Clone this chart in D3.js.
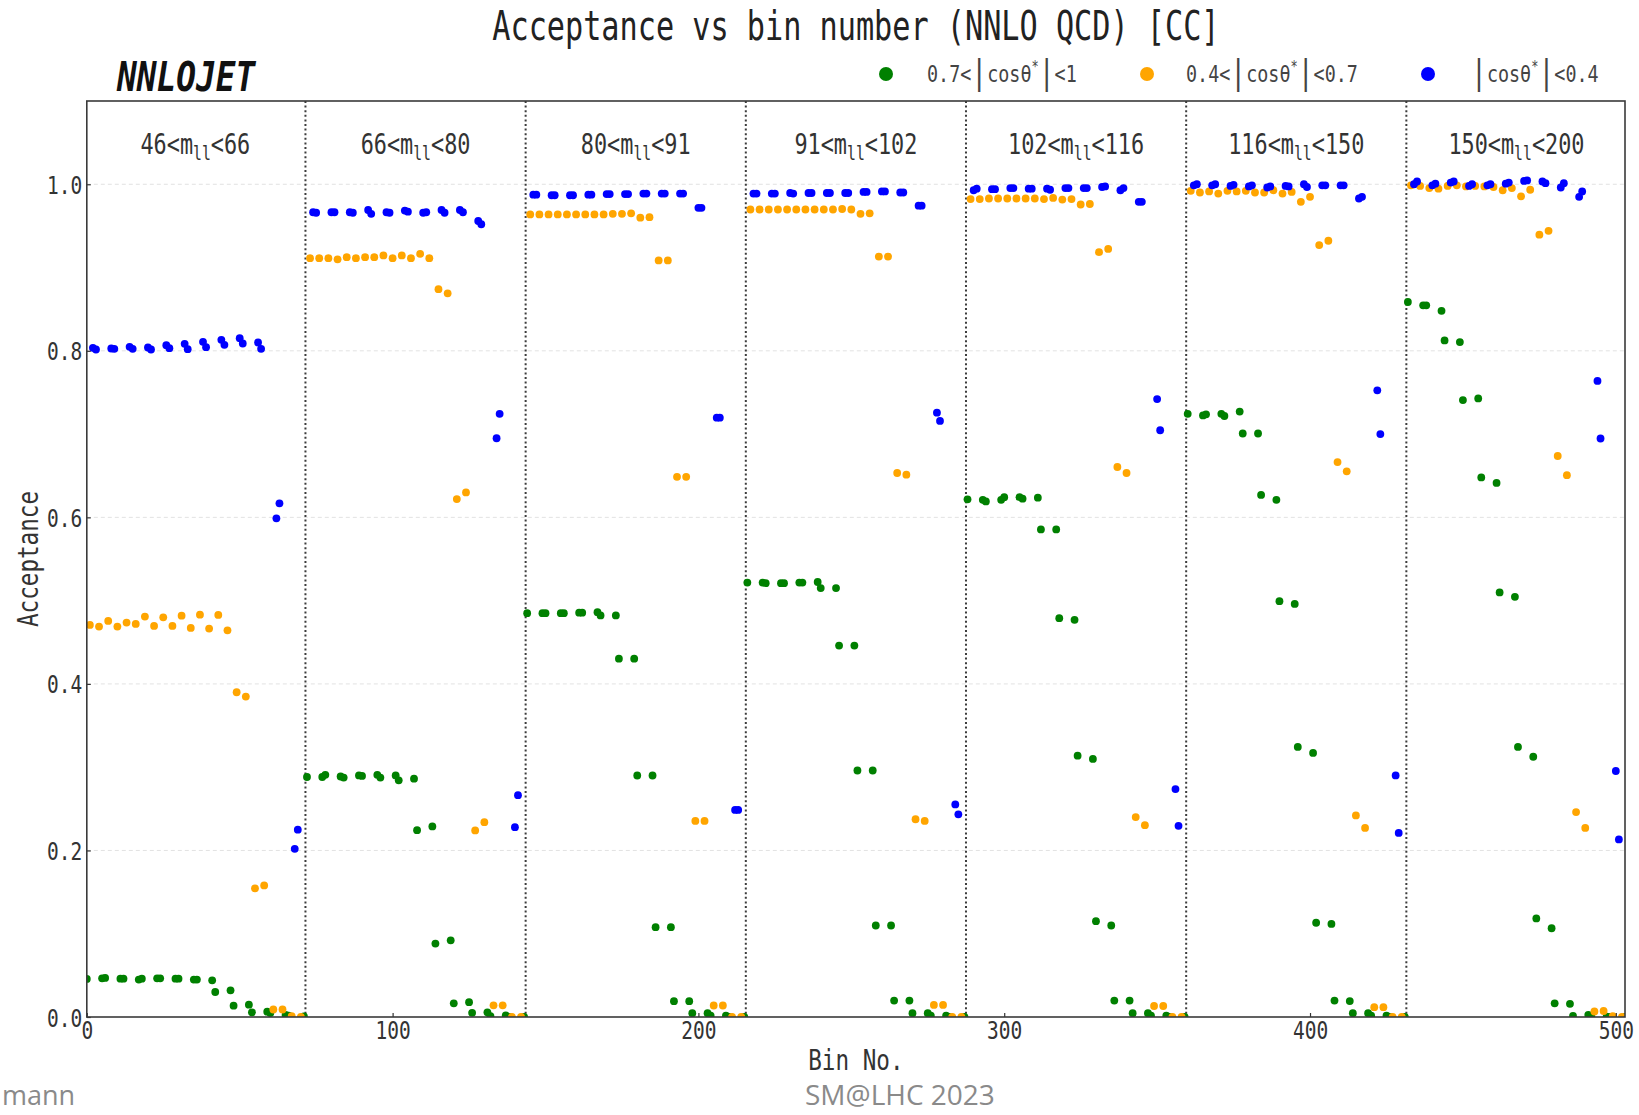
<!DOCTYPE html>
<html>
<head>
<meta charset="utf-8">
<script src="https://cdn.jsdelivr.net/npm/d3@7"></script>
<style>
  body { margin: 0; background: #fff; }
  svg { display: block; }
</style>
</head>
<body>
<svg id="chart" width="1639" height="1115"></svg>
<script>
// Dilepton mass windows (edges in GeV); 72 bins per window = 12 rapidity slices x 6 cos(theta*) slices
const massEdges = [46, 66, 80, 91, 102, 116, 150, 200];
const rapidityBinsPerMass = 12;
const cosBinsPerRapidity = 6;

// Acceptance per cos(theta*) slice, one row of 12 rapidity slices per mass window
// cos(theta*) in [-1, -0.7]
const accCosNeg10to07 = [
  [0.0457, 0.0469, 0.046, 0.046, 0.0465, 0.046, 0.0449, 0.030, 0.0136, 0.0056, 0.0048, 0.0016],
  [0.2882, 0.2908, 0.2875, 0.2895, 0.2875, 0.2842, 0.2243, 0.0882, 0.0164, 0.005, 0.001, 0.0],
  [0.4849, 0.4849, 0.4849, 0.4855, 0.4822, 0.4303, 0.290, 0.1079, 0.019, 0.0046, 0.0015, 0.0],
  [0.5217, 0.521, 0.521, 0.5217, 0.5151, 0.446, 0.296, 0.1099, 0.0197, 0.0046, 0.0015, 0.0],
  [0.6217, 0.6191, 0.6243, 0.6224, 0.5855, 0.4789, 0.3138, 0.1151, 0.0197, 0.0046, 0.0015, 0.0],
  [0.7243, 0.7237, 0.7217, 0.7007, 0.627, 0.4993, 0.3243, 0.1132, 0.0197, 0.0046, 0.0015, 0.0],
  [0.8586, 0.8546, 0.8125, 0.7408, 0.648, 0.5099, 0.3243, 0.1184, 0.0164, 0.0013, 0.0005, 0.0]
];
// cos(theta*) in [-0.7, -0.4]
const accCosNeg07to04 = [
  [0.4708, 0.4756, 0.4736, 0.4808, 0.480, 0.482, 0.4832, 0.4828, 0.390, 0.1545, 0.009, 0.001],
  [0.9112, 0.9112, 0.9125, 0.9125, 0.9145, 0.9145, 0.9164, 0.874, 0.622, 0.224, 0.014, 0.0],
  [0.9638, 0.9638, 0.9638, 0.9638, 0.9638, 0.9645, 0.9599, 0.9086, 0.6487, 0.2355, 0.0138, 0.0],
  [0.9697, 0.9697, 0.9697, 0.9697, 0.9697, 0.9703, 0.9645, 0.9132, 0.6533, 0.2375, 0.0145, 0.0],
  [0.9822, 0.9829, 0.9829, 0.9829, 0.9822, 0.9816, 0.9757, 0.9184, 0.6605, 0.2401, 0.0132, 0.0],
  [0.9921, 0.9914, 0.9921, 0.9921, 0.9901, 0.9888, 0.9789, 0.927, 0.6664, 0.2421, 0.0118, 0.0],
  [0.9987, 0.9954, 0.998, 0.9974, 0.9974, 0.9928, 0.9855, 0.9395, 0.6737, 0.2461, 0.0066, 0.001]
];
// cos(theta*) in [-0.4, 0]
const accCosNeg04to00 = [
  [0.8036, 0.8028, 0.8048, 0.804, 0.8068, 0.8084, 0.8108, 0.8132, 0.8152, 0.810, 0.5988, 0.202],
  [0.9664, 0.9664, 0.9664, 0.9691, 0.9664, 0.9684, 0.9658, 0.9691, 0.9691, 0.9559, 0.695, 0.228],
  [0.9875, 0.9868, 0.9868, 0.9875, 0.9882, 0.9882, 0.9888, 0.9888, 0.9888, 0.9717, 0.7197, 0.2487],
  [0.9888, 0.9888, 0.9895, 0.9895, 0.9895, 0.9895, 0.9908, 0.9914, 0.9901, 0.9743, 0.7257, 0.2553],
  [0.9928, 0.9941, 0.9954, 0.9947, 0.9947, 0.9954, 0.9954, 0.9967, 0.9928, 0.9789, 0.7421, 0.2737],
  [0.9987, 0.9987, 0.998, 0.9974, 0.9961, 0.998, 1.0, 0.9987, 0.9987, 0.9829, 0.7526, 0.2901],
  [1.0, 0.9987, 1.002, 0.998, 0.9987, 1.0007, 1.004, 1.0033, 0.9961, 0.9849, 0.7638, 0.2954]
];
// cos(theta*) in [0, 0.4]
const accCos00to04 = [
  [0.8016, 0.8024, 0.8024, 0.8016, 0.8032, 0.802, 0.8044, 0.8072, 0.8088, 0.8024, 0.6168, 0.225],
  [0.9658, 0.9664, 0.9658, 0.9645, 0.9658, 0.9671, 0.9664, 0.9658, 0.9664, 0.952, 0.7243, 0.2664],
  [0.9875, 0.9868, 0.9868, 0.9875, 0.9882, 0.9882, 0.9888, 0.9888, 0.9888, 0.9717, 0.7197, 0.2487],
  [0.9888, 0.9888, 0.9888, 0.9895, 0.9895, 0.9895, 0.9908, 0.9914, 0.9901, 0.9743, 0.7158, 0.2434],
  [0.9947, 0.9941, 0.9954, 0.9947, 0.9934, 0.9954, 0.9954, 0.9974, 0.9954, 0.9789, 0.7046, 0.2296],
  [1.0, 1.0, 0.9993, 0.9987, 0.9974, 0.9974, 0.9967, 0.9987, 0.9987, 0.9849, 0.700, 0.2211],
  [1.0033, 1.0007, 1.0033, 1.0, 1.0, 1.002, 1.0046, 1.0013, 1.0013, 0.9914, 0.6947, 0.2132]
];
// cos(theta*) in [0.4, 0.7]
const accCos04to07 = [
  [0.4688, 0.4688, 0.472, 0.4696, 0.4696, 0.4672, 0.4664, 0.4644, 0.3848, 0.158, 0.009, 0.0],
  [0.9112, 0.9099, 0.9112, 0.9125, 0.9112, 0.9112, 0.9112, 0.869, 0.630, 0.234, 0.014, 0.0],
  [0.9638, 0.9638, 0.9638, 0.9638, 0.9645, 0.9651, 0.9605, 0.9086, 0.6487, 0.2355, 0.0138, 0.0],
  [0.9697, 0.9697, 0.9697, 0.9697, 0.9697, 0.9697, 0.9651, 0.9132, 0.6513, 0.2355, 0.0145, 0.0],
  [0.9822, 0.9829, 0.9829, 0.9829, 0.9836, 0.9822, 0.9763, 0.9224, 0.6533, 0.2303, 0.0132, 0.0],
  [0.9901, 0.9888, 0.9914, 0.9901, 0.9928, 0.9908, 0.9849, 0.9322, 0.6553, 0.227, 0.0118, 0.0],
  [0.998, 0.9947, 0.9987, 0.998, 0.9967, 0.9954, 0.9934, 0.9441, 0.6507, 0.227, 0.0072, 0.0]
];
// cos(theta*) in [0.7, 1]
const accCos07to10 = [
  [0.0465, 0.046, 0.045, 0.0465, 0.046, 0.045, 0.044, 0.032, 0.0148, 0.0064, 0.0024, 0.0008],
  [0.2882, 0.2888, 0.2901, 0.2908, 0.2901, 0.2862, 0.2289, 0.0921, 0.0178, 0.0056, 0.002, 0.0],
  [0.4849, 0.4849, 0.4855, 0.4862, 0.4822, 0.4303, 0.290, 0.1079, 0.019, 0.0046, 0.0015, 0.0],
  [0.5217, 0.521, 0.5217, 0.5224, 0.5151, 0.446, 0.296, 0.1099, 0.0197, 0.0046, 0.0015, 0.0],
  [0.6211, 0.6211, 0.6243, 0.6237, 0.5855, 0.477, 0.3099, 0.1099, 0.0197, 0.0046, 0.0015, 0.0],
  [0.7224, 0.7243, 0.727, 0.7007, 0.6211, 0.4961, 0.3171, 0.1118, 0.0191, 0.0046, 0.0015, 0.0],
  [0.8546, 0.848, 0.8105, 0.7428, 0.6414, 0.5046, 0.3125, 0.1066, 0.0158, 0.0026, 0.0005, 0.0]
];

// Order of the cos(theta*) slices inside one rapidity slice, and the |cos(theta*)| group each belongs to
const cosSliceData = [accCosNeg10to07, accCosNeg07to04, accCosNeg04to00, accCos00to04, accCos04to07, accCos07to10];
const cosSliceGroup = [0, 1, 2, 2, 1, 0];

// |cos(theta*)| groups: legend text and marker colour
const groupColors = ["green", "orange", "blue"];
const groupLegend = [
  { pre: "0.7<", post: "<1" },
  { pre: "0.4<", post: "<0.7" },
  { pre: "", post: "<0.4" }
];

const xTicks = [0, 100, 200, 300, 400, 500];
const yTicks = [0.0, 0.2, 0.4, 0.6, 0.8, 1.0];
const titleText = "Acceptance vs bin number (NNLO QCD) [CC]";

// ---------------------------------------------------------------------------
const MONO = "'DejaVu Sans Mono', monospace";
const SX = 0.78;           // horizontal squeeze for the narrow mono look
const svg = d3.select("#chart");

const plot = { left: 86.8, right: 1625, top: 101, bottom: 1017 };
const nBins = massEdges.length - 1;
const binsPerMass = rapidityBinsPerMass * cosBinsPerRapidity;
const totalBins = nBins * binsPerMass;

const x = d3.scaleLinear().domain([0, totalBins - 1]).range([plot.left, plot.right]);
const y = d3.scaleLinear().domain([0, 1.1]).range([plot.bottom, plot.top]);

// flatten into points: bin number = mass*72 + rapidity*6 + cos slice
const points = [];
for (let m = 0; m < nBins; m++) {
  for (let r = 0; r < rapidityBinsPerMass; r++) {
    for (let c = 0; c < cosBinsPerRapidity; c++) {
      points.push({
        bin: m * binsPerMass + r * cosBinsPerRapidity + c,
        value: cosSliceData[c][m][r],
        group: cosSliceGroup[c]
      });
    }
  }
}

function squeezedText(parent, tx, ty, txt, size, anchor, sx, extra) {
  const t = parent.append("text")
    .attr("transform", `translate(${tx},${ty}) scale(${sx},1)`)
    .attr("font-family", MONO)
    .attr("font-size", size)
    .attr("text-anchor", anchor)
    .attr("fill", "#222");
  if (txt !== null) t.text(txt);
  if (extra) extra(t);
  return t;
}

// clip region for markers
svg.append("defs").append("clipPath").attr("id", "plotClip")
  .append("rect")
  .attr("x", plot.left).attr("y", plot.top)
  .attr("width", plot.right - plot.left).attr("height", plot.bottom - plot.top);

// horizontal grid
svg.append("g").selectAll("line").data(yTicks.filter(d => d > 0)).join("line")
  .attr("x1", plot.left).attr("x2", plot.right)
  .attr("y1", d => y(d)).attr("y2", d => y(d))
  .attr("stroke", "#e2e2e2").attr("stroke-width", 1).attr("stroke-dasharray", "4,3");

// mass-window separators
svg.append("g").selectAll("line").data(d3.range(1, nBins)).join("line")
  .attr("x1", d => x(d * binsPerMass - 0.5)).attr("x2", d => x(d * binsPerMass - 0.5))
  .attr("y1", plot.top).attr("y2", plot.bottom)
  .attr("stroke", "#3c3c3c").attr("stroke-width", 2).attr("stroke-dasharray", "2,2.6");

// markers, one layer per |cos(theta*)| group
const marks = svg.append("g").attr("clip-path", "url(#plotClip)");
[0, 1, 2].forEach(g => {
  marks.append("g").selectAll("circle").data(points.filter(p => p.group === g)).join("circle")
    .attr("cx", d => x(d.bin))
    .attr("cy", d => y(d.value))
    .attr("r", 3.9)
    .attr("fill", groupColors[g]);
});

// axes (ticks pointing inwards)
const xAxis = svg.append("g").attr("transform", `translate(0,${plot.bottom})`)
  .call(d3.axisBottom(x).tickValues(xTicks).tickFormat(d3.format("d")).tickSize(-4).tickPadding(4));
const yAxis = svg.append("g").attr("transform", `translate(${plot.left},0)`)
  .call(d3.axisLeft(y).tickValues(yTicks).tickFormat(d3.format(".1f")).tickSize(-4).tickPadding(6));
[xAxis, yAxis].forEach(a => {
  a.select(".domain").remove();
  a.selectAll(".tick line").attr("stroke", "#333").attr("stroke-width", 1.2);
  a.selectAll(".tick text")
    .attr("font-family", MONO).attr("font-size", 25).attr("fill", "#333");
});
xAxis.selectAll(".tick text").attr("transform", `scale(${SX},1)`);
yAxis.selectAll(".tick text").attr("transform", `scale(${SX},1)`).attr("dy", "0.36em");

// frame
svg.append("rect")
  .attr("x", plot.left).attr("y", plot.top)
  .attr("width", plot.right - plot.left).attr("height", plot.bottom - plot.top)
  .attr("fill", "none").attr("stroke", "#3a3a3a").attr("stroke-width", 1.6);

// mass-window labels
for (let m = 0; m < nBins; m++) {
  const cx = x(m * binsPerMass + (binsPerMass - 1) / 2);
  squeezedText(svg, cx, 154, null, 28, "middle", SX, t => {
    t.attr("fill", "#333");
    t.append("tspan").text(`${massEdges[m]}<m`);
    t.append("tspan").attr("font-size", 19).attr("dy", 6).text("ll");
    t.append("tspan").attr("dy", -6).text(`<${massEdges[m + 1]}`);
  });
}

// title
squeezedText(svg, (plot.left + plot.right) / 2, 40, titleText, 40, "middle", 0.755);

// NNLOJET tag
svg.append("text")
  .attr("transform", `translate(117,91) scale(0.8,1)`)
  .attr("font-family", MONO).attr("font-size", 41)
  .attr("font-weight", "bold").attr("font-style", "italic")
  .attr("fill", "#111").text("NNLOJET");

// legend
const legendPos = [{ dot: 886, text: 927 }, { dot: 1147, text: 1186 }, { dot: 1428, text: 1471 }];
groupLegend.forEach((lg, i) => {
  svg.append("circle").attr("cx", legendPos[i].dot).attr("cy", 74).attr("r", 7).attr("fill", groupColors[i]);
  squeezedText(svg, legendPos[i].text, 82, null, 23, "start", 0.8, t => {
    t.attr("fill", "#444");
    if (lg.pre) t.append("tspan").text(lg.pre);
    t.append("tspan").attr("font-size", 33).attr("dy", 2).text("|");
    t.append("tspan").attr("dy", -2).text("cosθ");
    t.append("tspan").attr("font-size", 15).attr("dy", -10).text("*");
    t.append("tspan").attr("font-size", 33).attr("dy", 12).text("|");
    t.append("tspan").attr("dy", -2).text(lg.post);
  });
});

// axis labels
squeezedText(svg, (plot.left + plot.right) / 2, 1070, "Bin No.", 29, "middle", SX).attr("fill", "#333");
svg.append("text")
  .attr("transform", `translate(38,${(plot.top + plot.bottom) / 2}) rotate(-90) scale(${SX},1)`)
  .attr("font-family", MONO).attr("font-size", 29).attr("text-anchor", "middle")
  .attr("fill", "#333").text("Acceptance");

// footer
svg.append("text").attr("x", 2).attr("y", 1105)
  .attr("font-family", "'Open Sans', sans-serif").attr("font-size", 27).attr("fill", "#8a8a8a").text("mann");
svg.append("text").attr("x", 805).attr("y", 1105)
  .attr("font-family", "'Open Sans', sans-serif").attr("font-size", 28).attr("fill", "#8a8a8a").text("SM@LHC 2023");
</script>
</body>
</html>
